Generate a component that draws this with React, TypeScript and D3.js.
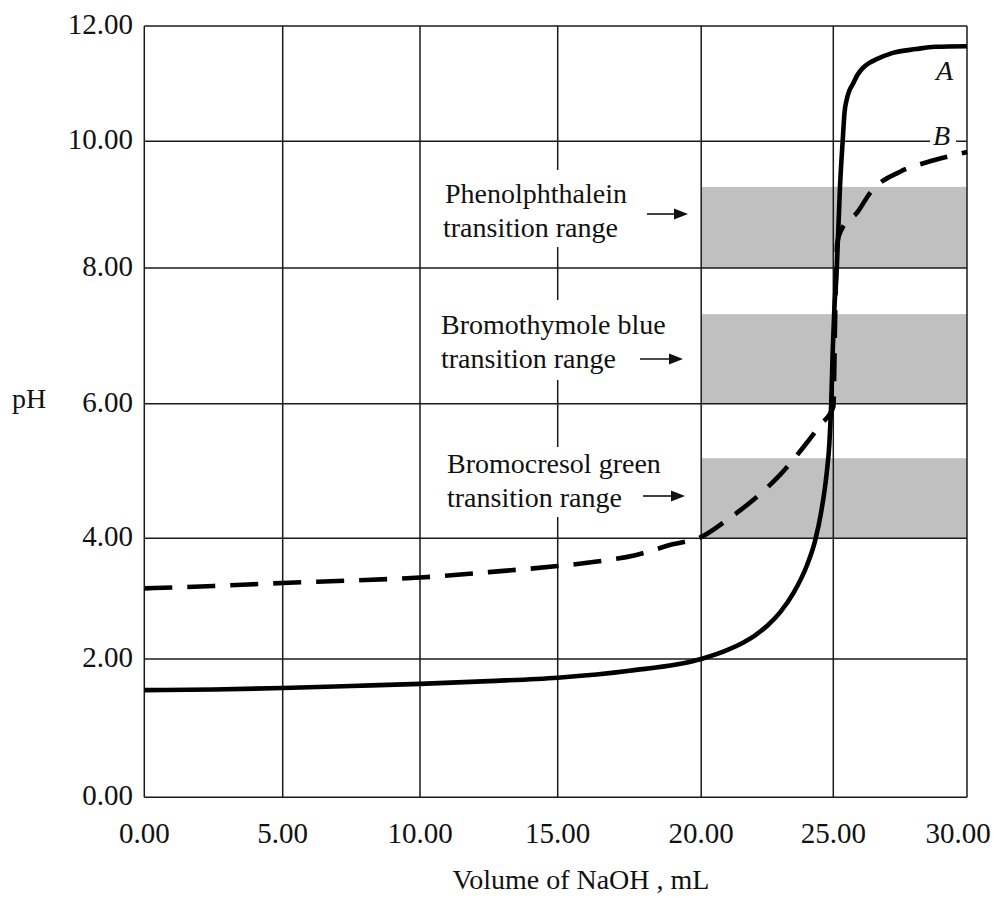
import React from "react";
import * as d3 from "d3";

// ---- data ----
const volumeTicks = [0, 5, 10, 15, 20, 25, 30];
const phTicks = [0, 2, 4, 6, 8, 10, 12];

// Curve A: strong acid titration (solid)
const curveAVolume = [0, 2.5, 5, 7.5, 10, 12.5, 15, 17.5, 20, 21, 22, 22.5, 23, 23.5, 24, 24.3, 24.55, 24.75, 24.85, 24.92, 24.98, 25.04, 25.13, 25.25, 25.35, 25.42, 25.5, 25.6, 25.74, 25.9, 26.1, 26.35, 26.6, 27.2, 28.1, 28.8, 30];
const curveApH = [1.55, 1.56, 1.58, 1.61, 1.64, 1.68, 1.73, 1.83, 2.0, 2.15, 2.38, 2.55, 2.78, 3.1, 3.55, 3.94, 4.41, 4.97, 5.4, 6.0, 6.8, 7.4, 8.0, 9.28, 10.0, 10.5, 10.72, 10.88, 11.0, 11.15, 11.27, 11.36, 11.42, 11.53, 11.6, 11.64, 11.65];

// Curve B: weak acid titration (dashed)
const curveBVolume = [0, 2.5, 5, 7.5, 10, 12.5, 15, 16.3, 17.7, 19, 20, 21, 22, 23, 24, 24.5, 25, 25.08, 25.15, 25.3, 25.9, 26.4, 27.5, 28.5, 29.5, 30];
const curveBpH = [3.17, 3.21, 3.26, 3.3, 3.35, 3.44, 3.54, 3.61, 3.72, 3.9, 4.02, 4.28, 4.58, 4.95, 5.42, 5.68, 5.95, 7.5, 8.4, 8.6, 8.88, 9.2, 9.52, 9.67, 9.78, 9.83];

const indicatorNames = ["Phenolphthalein", "Bromothymole blue", "Bromocresol green"];
const indicatorSubtitle = "transition range";
const indicatorLow = [8.0, 6.0, 4.0];
const indicatorHigh = [9.28, 7.32, 5.19];
const indicatorVolumeFrom = 20;
const indicatorVolumeTo = 30;

const curveLabels = ["A", "B"];
const xTitle = "Volume of NaOH , mL";
const yTitle = "pH";

export default function App() {
  const W = 995;
  const H = 897;
  const font = "'Liberation Serif', 'Times New Roman', serif";

  const x = d3.scaleLinear().domain(volumeTicks).range([144.3, 282.7, 420, 557.7, 701.2, 833.3, 967]);
  const y = d3.scaleLinear().domain(phTicks).range([797.3, 659, 538.3, 403.7, 268, 141.3, 26]);
  const fmt = d3.format(".2f");

  const line = d3
    .line<[number, number]>()
    .x((d) => x(d[0]))
    .y((d) => y(d[1]))
    .curve(d3.curveMonotoneX);

  const dataA: [number, number][] = curveAVolume.map((v, i) => [v, curveApH[i]]);
  const dataB: [number, number][] = curveBVolume.map((v, i) => [v, curveBpH[i]]);

  // annotation layout
  const blocks = [
    { x1: 445, b1: 203, x2: 443, b2: 237, ay: 214, ax0: 647, ax1: 688, r0: 170, r1: 247 },
    { x1: 441, b1: 334, x2: 441, b2: 368, ay: 359, ax0: 640, ax1: 683, r0: 300, r1: 380 },
    { x1: 447, b1: 473, x2: 447, b2: 507, ay: 496, ax0: 643, ax1: 685, r0: 447, r1: 517 },
  ];

  const gridColor = "#1a1a1a";
  const gridW = 1.5;
  const x0 = x(volumeTicks[0]);
  const x1 = x(volumeTicks[volumeTicks.length - 1]);
  const y0 = y(phTicks[0]);
  const y1 = y(phTicks[phTicks.length - 1]);

  return (
    <svg
      width={W}
      height={H}
      style={{ position: "absolute", left: 0, top: 0, background: "#fff" }}
      fontFamily={font}
    >
      <rect x={0} y={0} width={W} height={H} fill="#fff" />

      {/* indicator bands */}
      {indicatorNames.map((n, i) => (
        <rect
          key={"band" + i}
          x={x(indicatorVolumeFrom)}
          y={y(indicatorHigh[i])}
          width={x(indicatorVolumeTo) - x(indicatorVolumeFrom)}
          height={y(indicatorLow[i]) - y(indicatorHigh[i])}
          fill="#c0c0c0"
        />
      ))}

      {/* grid */}
      {volumeTicks.map((v) => (
        <line key={"vx" + v} x1={x(v)} x2={x(v)} y1={y1} y2={y0} stroke={gridColor} strokeWidth={gridW} />
      ))}
      {phTicks.map((p) => (
        <line key={"hy" + p} x1={x0} x2={x1} y1={y(p)} y2={y(p)} stroke={gridColor} strokeWidth={gridW} />
      ))}

      {/* annotation text blocks */}
      {blocks.map((b, i) => (
        <g key={"blk" + i}>
          <rect x={432} y={b.r0} width={262} height={b.r1 - b.r0} fill="#fff" />
          <text x={b.x1} y={b.b1} fontSize={28} fill="#111">
            {indicatorNames[i]}
          </text>
          <text x={b.x2} y={b.b2} fontSize={28} fill="#111">
            {indicatorSubtitle}
          </text>
          <line x1={b.ax0} x2={b.ax1 - 10} y1={b.ay} y2={b.ay} stroke="#111" strokeWidth={1.6} />
          <path d={`M${b.ax1},${b.ay} L${b.ax1 - 14},${b.ay - 5.5} L${b.ax1 - 14},${b.ay + 5.5} Z`} fill="#111" />
        </g>
      ))}

      {/* curves */}
      <path d={line(dataB) || ""} fill="none" stroke="#000" strokeWidth={4.6} strokeDasharray="28,15" />
      <path d={line(dataA) || ""} fill="none" stroke="#000" strokeWidth={4.6} strokeLinejoin="round" />

      {/* curve labels */}
      <text x={936} y={80} fontSize={28} fontStyle="italic" fill="#111">
        {curveLabels[0]}
      </text>
      <rect x={930} y={124} width={26} height={24} fill="#fff" />
      <text x={933} y={145} fontSize={28} fontStyle="italic" fill="#111">
        {curveLabels[1]}
      </text>

      {/* y tick labels */}
      {phTicks.map((p) => (
        <text key={"yt" + p} x={133} y={y(p) - 2} dy="0.35em" textAnchor="end" fontSize={29} fill="#111">
          {fmt(p)}
        </text>
      ))}

      {/* x tick labels */}
      {volumeTicks.map((v) => (
        <text key={"xt" + v} x={Math.min(x(v), 958)} y={843} textAnchor="middle" fontSize={29} fill="#111">
          {fmt(v)}
        </text>
      ))}

      {/* axis titles */}
      <text x={581} y={889} textAnchor="middle" fontSize={28} fill="#111">
        {xTitle}
      </text>
      <text x={12} y={408} fontSize={28} fill="#111">
        {yTitle}
      </text>
    </svg>
  );
}
